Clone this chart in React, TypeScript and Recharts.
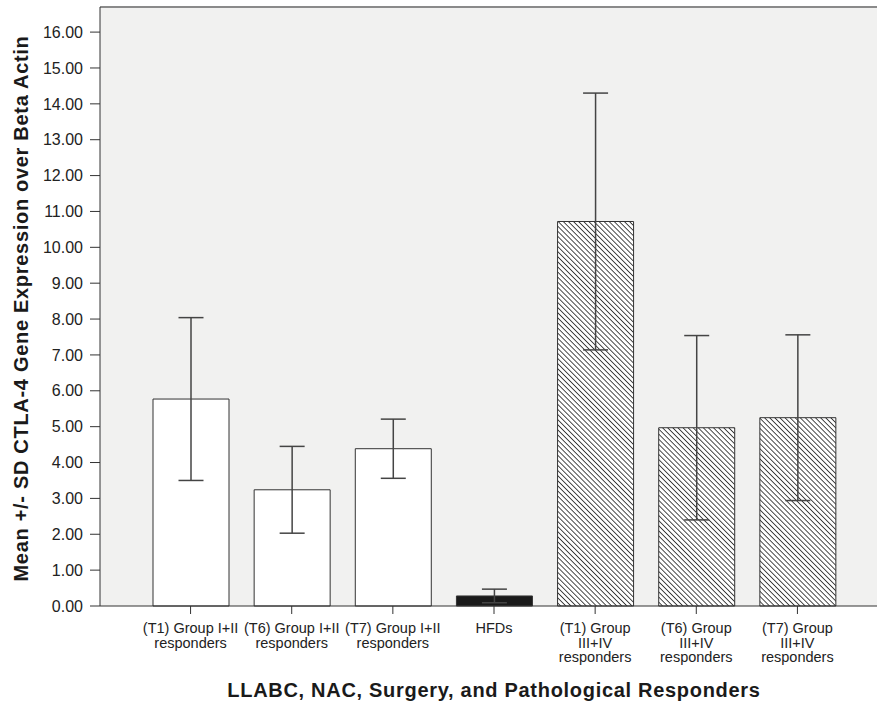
import React from "react"
import { BarChart, Bar, Cell, XAxis, YAxis, CartesianGrid, ErrorBar, ReferenceLine } from "recharts"

const categories = [
  "(T1) Group I+II\nresponders",
  "(T6) Group I+II\nresponders",
  "(T7) Group I+II\nresponders",
  "HFDs",
  "(T1) Group\nIII+IV\nresponders",
  "(T6) Group\nIII+IV\nresponders",
  "(T7) Group\nIII+IV\nresponders",
]
const means = [5.77, 3.24, 4.385, 0.28, 10.72, 4.97, 5.25]
const sds = [2.27, 1.21, 0.825, 0.19, 3.58, 2.57, 2.31]
const yTicks = [0, 1, 2, 3, 4, 5, 6, 7, 8, 9, 10, 11, 12, 13, 14, 15, 16]

const data = categories.map((name, i) => ({ name, mean: means[i], sd: sds[i] }))

const FONT = "'Liberation Sans', Arial, sans-serif"

function barFill(i: number) {
  if (i < 3) return "#ffffff"
  if (i === 3) return "#1a1a1a"
  return "url(#hatch)"
}

function CategoryTick(props: any) {
  const { x, y, payload } = props
  const lines = String(payload.value).split("\n")
  return (
    <text x={x} y={y + 17} textAnchor="middle" fontSize={14.5} fill="#222" fontFamily={FONT}>
      {lines.map((l, i) => (
        <tspan key={i} x={x} dy={i === 0 ? 0 : 14.5}>
          {l}
        </tspan>
      ))}
    </text>
  )
}

const titleStyle = { fontSize: 20, fontWeight: "bold", fill: "#1a1a1a", fontFamily: FONT, letterSpacing: 0.7 }

export default function App() {
  return (
    <div style={{ position: "absolute", left: 0, top: 0, width: 877, height: 706, overflow: "hidden", background: "#fff" }}>
      <BarChart
        width={900}
        height={706}
        data={data}
        margin={{ top: 7, right: 12, bottom: 0, left: 0 }}
        barSize={76}
        style={{ fontFamily: FONT }}
      >
        <defs>
          <pattern id="hatch" patternUnits="userSpaceOnUse" width="3.6" height="3.6" patternTransform="rotate(-45)">
            <rect width="3.6" height="3.6" fill="#ffffff" />
            <line x1="0" y1="0" x2="0" y2="3.6" stroke="#2a2a2a" strokeWidth="1.7" />
          </pattern>
        </defs>
        <CartesianGrid horizontal={false} vertical={false} fill="#f1f1f0" stroke="none" />
        <ReferenceLine y={16.7} stroke="#8a8a8a" strokeWidth={2} />
        <XAxis
          dataKey="name"
          interval={0}
          height={100}
          padding={{ left: 40, right: 40 }}
          tickSize={8}
          tickLine={{ stroke: "#333" }}
          axisLine={{ stroke: "#333" }}
          tick={<CategoryTick />}
          label={{
            value: "LLABC, NAC, Surgery, and Pathological Responders",
            position: "insideBottom",
            offset: 9,
            style: titleStyle,
          }}
        />
        <YAxis
          width={100}
          domain={[0, 16.7]}
          ticks={yTicks}
          tickFormatter={(v: number) => v.toFixed(2)}
          tickSize={10}
          tickMargin={7}
          tick={{ fontSize: 16, fill: "#222", fontFamily: FONT }}
          tickLine={{ stroke: "#333" }}
          axisLine={{ stroke: "#333" }}
          label={{
            value: "Mean +/- SD CTLA-4 Gene Expression over Beta Actin",
            angle: -90,
            position: "center",
            dx: -29,
            dy: 2,
            style: titleStyle,
          }}
        />
        <Bar dataKey="mean" stroke="#333" strokeWidth={1} isAnimationActive={false}>
          {data.map((_, i) => (
            <Cell key={i} fill={barFill(i)} />
          ))}
          <ErrorBar dataKey="sd" width={12.5} stroke="#444" strokeWidth={1.5} direction="y" />
        </Bar>
      </BarChart>
    </div>
  )
}
